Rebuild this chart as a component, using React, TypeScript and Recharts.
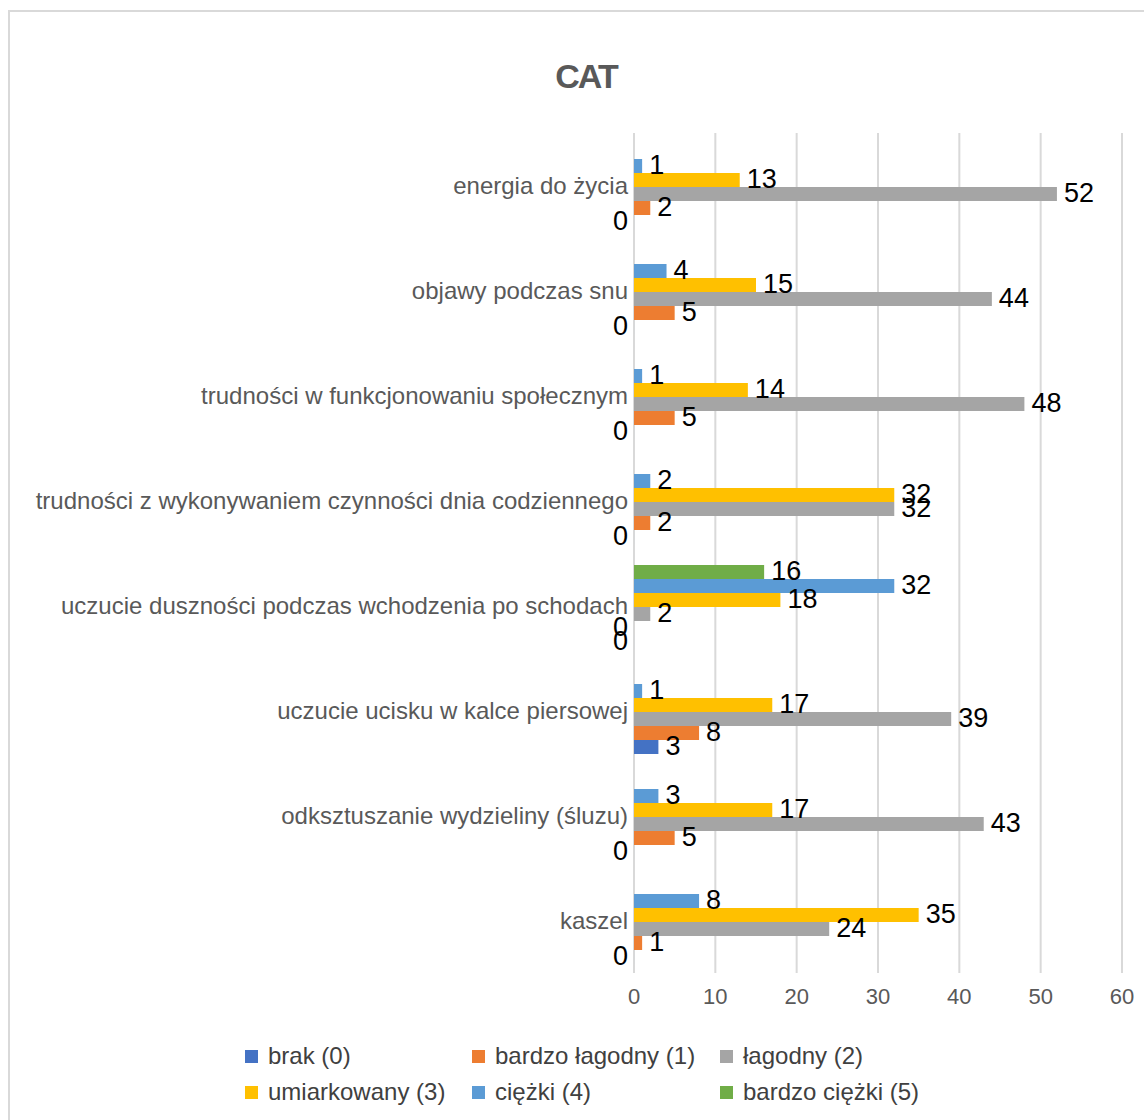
import React from 'react';
import { BarChart, Bar, XAxis, YAxis, CartesianGrid, LabelList } from 'recharts';

const FONT = '"Liberation Sans", Arial, sans-serif';

// Categories, top to bottom
const categories = [
  'energia do życia',
  'objawy podczas snu',
  'trudności w funkcjonowaniu społecznym',
  'trudności z wykonywaniem czynności dnia codziennego',
  'uczucie duszności podczas wchodzenia po schodach',
  'uczucie ucisku w kalce piersowej',
  'odksztuszanie wydzieliny (śluzu)',
  'kaszel',
];

// Series values, one per category
const brak = [0, 0, 0, 0, 0, 3, 0, 0];
const bardzoLagodny = [2, 5, 5, 2, 0, 8, 5, 1];
const lagodny = [52, 44, 48, 32, 2, 39, 43, 24];
const umiarkowany = [13, 15, 14, 32, 18, 17, 17, 35];
const ciezki = [1, 4, 1, 2, 32, 1, 3, 8];
const bardzoCiezki = [null, null, null, null, 16, null, null, null];

const xTicks = [0, 10, 20, 30, 40, 50, 60];

const series = [
  { key: 's0', name: 'brak (0)', color: '#4472C4', values: brak },
  { key: 's1', name: 'bardzo łagodny (1)', color: '#ED7D31', values: bardzoLagodny },
  { key: 's2', name: 'łagodny (2)', color: '#A5A5A5', values: lagodny },
  { key: 's3', name: 'umiarkowany (3)', color: '#FFC000', values: umiarkowany },
  { key: 's4', name: 'ciężki (4)', color: '#5B9BD5', values: ciezki },
  { key: 's5', name: 'bardzo ciężki (5)', color: '#70AD47', values: bardzoCiezki },
];

const data = categories.map((name, i) => {
  const row: Record<string, any> = { name };
  series.forEach((s) => {
    row[s.key] = s.values[i];
  });
  return row;
});

// Excel draws the first series at the bottom of each group
const drawOrder = [...series].reverse();

// keep zero bars as (invisible) hairlines so their "0" labels still get drawn
const zeroMin = (v: any) => (v === 0 ? 0.01 : 0);

const renderLabel = (props: any) => {
  const { x, y, width, height, value } = props;
  if (value === null || value === undefined) return null;
  const cy = Number(y) + Number(height) / 2;
  const zero = Number(value) === 0;
  return (
    <text
      x={zero ? Number(x) - 6 : Number(x) + Number(width) + 7}
      y={cy}
      dy={-1}
      textAnchor={zero ? 'end' : 'start'}
      dominantBaseline="central"
      fill="#000"
      fontSize={27}
      fontFamily={FONT}
    >
      {value}
    </text>
  );
};

const CategoryTick = (props: any) => {
  const { x, y, payload } = props;
  return (
    <text
      x={x}
      y={y}
      textAnchor="end"
      dominantBaseline="central"
      fill="#595959"
      fontSize={24}
      fontFamily={FONT}
    >
      {payload.value}
    </text>
  );
};

const ValueTick = (props: any) => {
  const { x, y, payload } = props;
  return (
    <text
      x={x}
      y={y}
      textAnchor="middle"
      dominantBaseline="hanging"
      fill="#595959"
      fontSize={22}
      fontFamily={FONT}
    >
      {payload.value}
    </text>
  );
};

const legendRows = [
  [series[0], series[1], series[2]],
  [series[3], series[4], series[5]],
];
const legendCols = [245, 472, 720];

export default function App() {
  return (
    <div
      style={{
        position: 'absolute',
        left: 0,
        top: 0,
        width: 1144,
        height: 1120,
        background: '#fff',
        overflow: 'hidden',
        fontFamily: FONT,
      }}
    >
      <div
        style={{
          position: 'absolute',
          left: 8,
          top: 10,
          width: 1160,
          height: 1140,
          border: '2px solid #d9d9d9',
          boxSizing: 'border-box',
        }}
      />
      <div
        style={{
          position: 'absolute',
          left: 0,
          width: 1172,
          top: 56,
          textAlign: 'center',
          fontSize: 34,
          fontWeight: 'bold',
          color: '#595959',
          letterSpacing: -2,
          lineHeight: '40px',
        }}
      >
        CAT
      </div>
      <div style={{ position: 'absolute', left: 0, top: 0 }}>
        <BarChart
          width={1144}
          height={1120}
          data={data}
          layout="vertical"
          margin={{ top: 133, right: 22, bottom: 117, left: 0 }}
          barCategoryGap={12}
          barGap={0}
        >
          <CartesianGrid horizontal={false} stroke="#d9d9d9" strokeWidth={2} />
          <XAxis
            type="number"
            domain={[0, 60]}
            ticks={xTicks}
            axisLine={false}
            tickLine={false}
            tickSize={6}
            tickMargin={9}
            height={30}
            tick={<ValueTick />}
          />
          <YAxis
            type="category"
            dataKey="name"
            width={634}
            axisLine={false}
            tickLine={false}
            tickSize={6}
            tickMargin={0}
            interval={0}
            tick={<CategoryTick />}
          />
          {drawOrder.map((s) => (
            <Bar
              key={s.key}
              dataKey={s.key}
              name={s.name}
              fill={s.color}
              minPointSize={zeroMin}
              isAnimationActive={false}
            >
              <LabelList dataKey={s.key} content={renderLabel} />
            </Bar>
          ))}
        </BarChart>
      </div>
      {legendRows.map((row, r) =>
        row.map((s, c) => (
          <div
            key={s.key}
            style={{
              position: 'absolute',
              left: legendCols[c],
              top: 1042 + r * 36,
              height: 28,
              display: 'flex',
              alignItems: 'center',
              fontSize: 24,
              color: '#404040',
              whiteSpace: 'nowrap',
            }}
          >
            <span style={{ width: 13, height: 13, background: s.color, marginRight: 10, display: 'inline-block' }} />
            {s.name}
          </div>
        ))
      )}
    </div>
  );
}
